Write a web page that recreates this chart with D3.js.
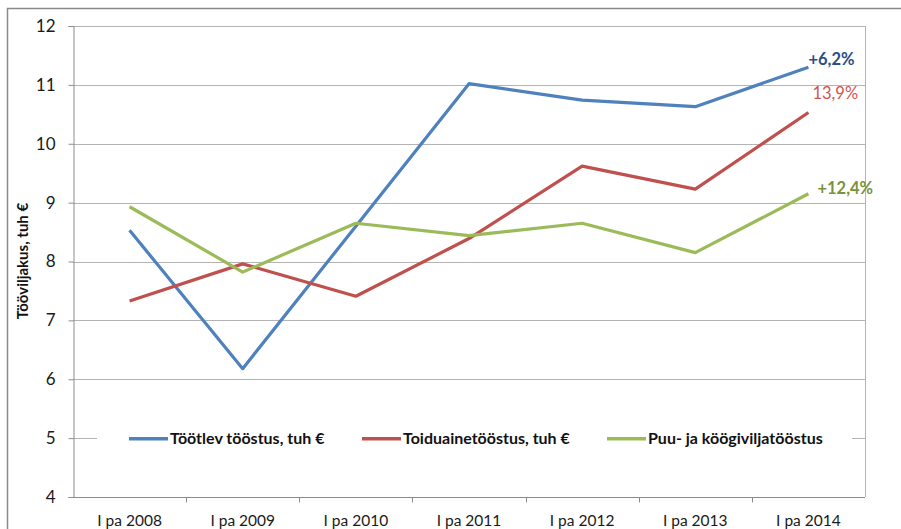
<!DOCTYPE html>
<html>
<head>
<meta charset="utf-8">
<script src="https://cdn.jsdelivr.net/npm/d3@7"></script>
<style>
  body { margin: 0; background: #fff; }
  text { font-family: Lato, "Open Sans", sans-serif; }
</style>
</head>
<body>
<div class="canva"></div>
<script>
const categories = ["I pa 2008", "I pa 2009", "I pa 2010", "I pa 2011", "I pa 2012", "I pa 2013", "I pa 2014"];
const seriesNames = ["Töötlev tööstus, tuh €", "Toiduainetööstus, tuh €", "Puu- ja köögiviljatööstus"];
const tootlev = [8.53, 6.18, 8.6, 11.02, 10.74, 10.63, 11.3];
const toiduaine = [7.33, 7.96, 7.41, 8.39, 9.62, 9.23, 10.53];
const puuKoogivili = [8.93, 7.82, 8.65, 8.44, 8.65, 8.15, 9.15];
const endLabels = ["+6,2%", "13,9%", "+12,4%"];
const yTicks = [4, 5, 6, 7, 8, 9, 10, 11, 12];

const series = [
    {name: seriesNames[0], values: tootlev, color: "#4F81BD", label: endLabels[0], labelColor: "#2B4E86", weight: "bold", dx: 0, dy: -2},
    {name: seriesNames[1], values: toiduaine, color: "#C0504D", label: endLabels[1], labelColor: "#D0554F", weight: "normal", dx: 4, dy: -14},
    {name: seriesNames[2], values: puuKoogivili, color: "#9BBB59", label: endLabels[2], labelColor: "#77933C", weight: "bold", dx: 9, dy: 0}
];

const svg = d3.select(".canva").append("svg")
            .attr("width", 901)
            .attr("height", 529);

// outer chart border
svg.append("rect")
    .attr("x", 7.5).attr("y", 8.5)
    .attr("width", 910).attr("height", 540)
    .attr("fill", "none")
    .attr("stroke", "#8a8a8a")
    .attr("stroke-width", 1.5);

const margin = {top: 26, left: 73, right: 36, bottom: 32};
const graphWidth = 901 - margin.left - margin.right;
const graphHeight = 529 - margin.top - margin.bottom;

const g = svg.append("g")
            .attr("transform", `translate(${margin.left}, ${margin.top})`);

const x = d3.scaleBand().domain(categories).range([0, graphWidth]);
const y = d3.scaleLinear().domain([4, 12]).range([graphHeight, 0]);

// gridlines
g.selectAll(".grid")
    .data(yTicks)
    .enter().append("line")
    .attr("x1", 0).attr("x2", graphWidth)
    .attr("y1", d => Math.round(y(d)) + 0.5)
    .attr("y2", d => Math.round(y(d)) + 0.5)
    .attr("stroke", d => d === 4 ? "#8c8c8c" : "#b4b4b4");

// right border of plot area
g.append("line")
    .attr("x1", graphWidth + 0.5).attr("x2", graphWidth + 0.5)
    .attr("y1", 0).attr("y2", graphHeight)
    .attr("stroke", "#b4b4b4");

// y axis
const yAxis = g.append("g")
    .attr("transform", "translate(0.5, 0)")
    .call(d3.axisLeft(y).tickValues(yTicks).tickSize(5).tickPadding(13));
yAxis.select(".domain").attr("stroke", "#8c8c8c");
yAxis.selectAll(".tick line").attr("stroke", "#8c8c8c");
yAxis.selectAll(".tick text")
    .attr("fill", "#1a1a1a")
    .style("font-size", "17px")
    .style("font-family", "Lato, sans-serif");

// x axis with ticks between categories
const xAxis = g.append("g")
    .attr("transform", `translate(0, ${graphHeight + 0.5})`);
xAxis.selectAll(".xtick")
    .data(categories.slice(1))
    .enter().append("line")
    .attr("x1", d => Math.round(x(d)) + 0.5)
    .attr("x2", d => Math.round(x(d)) + 0.5)
    .attr("y1", 0).attr("y2", 5)
    .attr("stroke", "#8c8c8c");
xAxis.selectAll(".xlabel")
    .data(categories)
    .enter().append("text")
    .attr("x", d => x(d) + x.bandwidth() / 2)
    .attr("y", 28)
    .attr("text-anchor", "middle")
    .attr("fill", "#1a1a1a")
    .style("font-size", "15.5px")
    .text(d => d);

// y axis title
svg.append("text")
    .attr("transform", "translate(28, 261) rotate(-90)")
    .attr("text-anchor", "middle")
    .attr("fill", "#111")
    .style("font-size", "15px")
    .style("font-weight", "bold")
    .text("Tööviljakus, tuh €");

// legend (white box covers the gridline)
const legend = g.append("g").attr("transform", `translate(0, ${y(5)})`);
legend.append("rect")
    .attr("x", 24).attr("y", -10)
    .attr("width", 755).attr("height", 20)
    .attr("fill", "#fff");
const legendX = [56, 289, 534];
series.forEach((s, i) => {
    legend.append("line")
        .attr("x1", legendX[i]).attr("x2", legendX[i] + 39)
        .attr("y1", 0.5).attr("y2", 0.5)
        .attr("stroke", s.color)
        .attr("stroke-width", 3.5);
    legend.append("text")
        .attr("x", legendX[i] + 41)
        .attr("y", 5.5)
        .attr("fill", "#111")
        .style("font-size", "16px")
        .style("font-weight", "bold")
        .text(s.name);
});

// lines
const line = d3.line()
    .x((d, i) => x(categories[i]) + x.bandwidth() / 2)
    .y(d => y(d));

g.selectAll(".series")
    .data(series)
    .enter().append("path")
    .attr("d", d => line(d.values))
    .attr("fill", "none")
    .attr("stroke", d => d.color)
    .attr("stroke-width", 3.2)
    .attr("stroke-linejoin", "round");

// end labels
g.selectAll(".endlabel")
    .data(series)
    .enter().append("text")
    .attr("x", d => x(categories[6]) + x.bandwidth() / 2 + d.dx)
    .attr("y", d => y(d.values[6]) + d.dy)
    .attr("fill", d => d.labelColor)
    .style("font-size", "16.5px")
    .style("font-weight", d => d.weight)
    .text(d => d.label);
</script>
</body>
</html>
